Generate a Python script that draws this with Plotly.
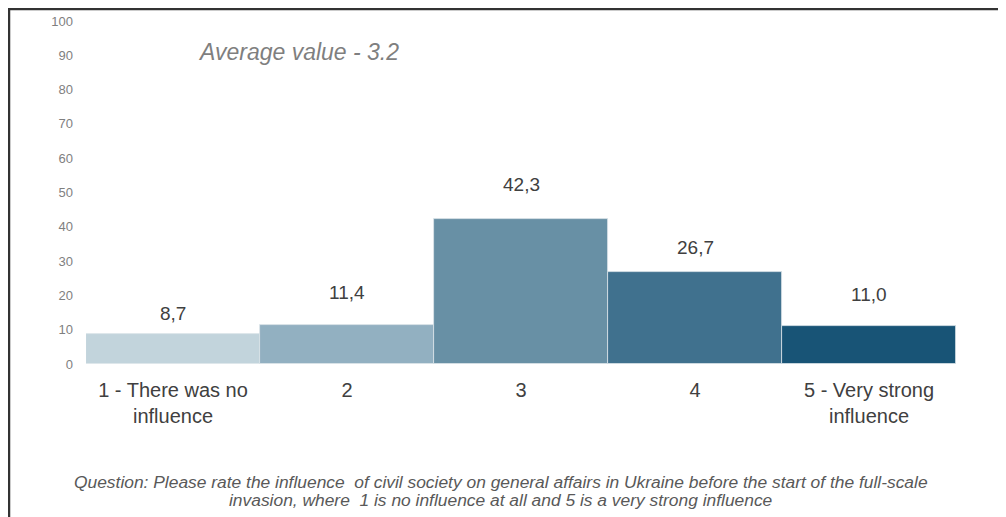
import plotly.graph_objects as go

categories = ["1 - There was no<br>influence", "2", "3", "4", "5 - Very strong<br>influence"]
values = [8.7, 11.4, 42.3, 26.7, 11.0]
value_labels = ["8,7", "11,4", "42,3", "26,7", "11,0"]
tick_vals = [0, 10, 20, 30, 40, 50, 60, 70, 80, 90, 100]
average_text = "Average value - 3.2"
caption_lines = [
    "Question: Please rate the influence  of civil society on general affairs in Ukraine before the start of the full-scale",
    "invasion, where  1 is no influence at all and 5 is a very strong influence",
]

# styling
colors = ["#C2D4DC", "#92B0C1", "#6890A5", "#40718E", "#185476"]
label_shift_px = [21, 32, 34, 25, 32]  # distance of label centre above bar top

W, H = 1006, 517
OFF = 8  # page body margin
L, T = 86 - OFF, 21 - OFF
R = W - (956 - OFF)
B = H - (364 - OFF)
pw, ph = W - L - R, H - T - B

FONT = "Liberation Sans, Arial, sans-serif"


def fx(p):
    return (p - OFF - L) / pw


def fy(p):
    return 1 - (p - OFF - T) / ph


fig = go.Figure()
fig.add_trace(go.Bar(
    x=categories, y=values,
    marker=dict(color=colors, line=dict(color="#DDE6EA", width=0.8)),
    width=1.0, hoverinfo="x+y",
))

for i, (v, lab, sh) in enumerate(zip(values, value_labels, label_shift_px)):
    fig.add_annotation(
        x=i, y=v, xref="x", yref="y", text=lab, showarrow=False,
        yanchor="middle", yshift=sh,
        font=dict(size=19, color="#404040", family=FONT),
    )

fig.update_layout(
    width=W, height=H,
    margin=dict(l=L, r=R, t=T, b=B, autoexpand=False),
    paper_bgcolor="white", plot_bgcolor="white",
    bargap=0, showlegend=False,
    font=dict(family=FONT, color="#404040"),
    xaxis=dict(
        type="category",
        showgrid=False, zeroline=False, showline=False,
        tickfont=dict(size=20, color="#404040"), ticks="",
        range=[-0.5, 4.5], ticklabelstandoff=12,
    ),
    yaxis=dict(
        range=[0, 100], tickvals=tick_vals, showgrid=False, zeroline=False,
        showline=False, tickfont=dict(size=13, color="#7F7F7F"),
        ticklabelstandoff=12,
    ),
)

fig.add_annotation(
    text="<i>" + average_text + "</i>", xref="paper", yref="paper",
    x=fx(196), y=fy(52), xanchor="left", yanchor="middle",
    showarrow=False, font=dict(size=23, color="#7F7F7F", family=FONT),
)
for line, ypix in zip(caption_lines, [482, 500]):
    fig.add_annotation(
        text="<i>" + line + "</i>", xref="paper", yref="paper",
        x=fx(501), y=fy(ypix), xanchor="center", yanchor="middle",
        showarrow=False, font=dict(size=17.4, color="#595959", family=FONT),
    )

# frame lines (left and top)
fig.add_shape(type="line", xref="paper", yref="paper",
              x0=fx(OFF + 1), x1=fx(OFF + 1), y0=fy(H + 20), y1=fy(OFF),
              line=dict(color="#333333", width=2.5))
fig.add_shape(type="line", xref="paper", yref="paper",
              x0=fx(OFF), x1=fx(W + 20), y0=fy(OFF + 1), y1=fy(OFF + 1),
              line=dict(color="#333333", width=2.5))

fig.write_html("out.html")
